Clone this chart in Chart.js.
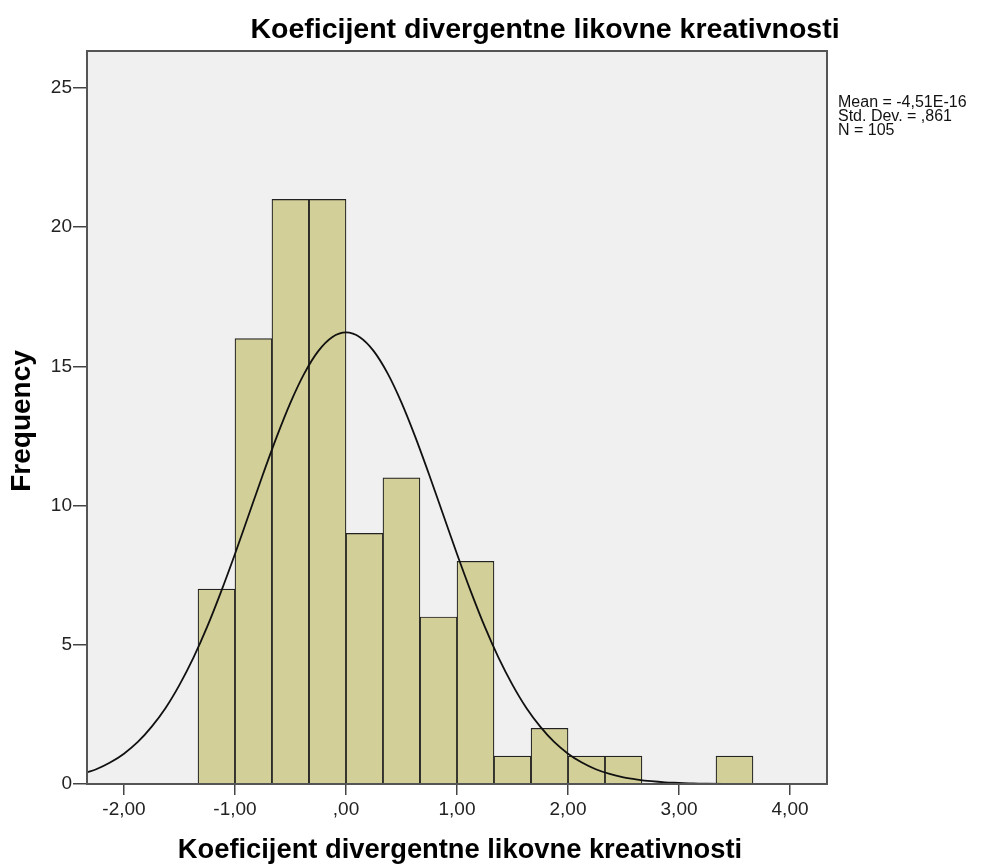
<!DOCTYPE html>
<html>
<head>
<meta charset="utf-8">
<script src="https://cdn.jsdelivr.net/npm/chart.js@4.4.0/dist/chart.umd.min.js"></script>
<style>
  html, body { margin: 0; padding: 0; background: #fff; }
  #wrap { width: 997px; height: 865px; position: relative; }
</style>
</head>
<body>
<div id="wrap"><canvas id="myChart" width="997" height="865"></canvas></div>
<script>
// histogram bins (lower edge) and counts
var binLower = [-1.333, -1.0, -0.667, -0.333, 0.0, 0.333, 0.667, 1.0, 1.333, 1.667, 2.0, 2.333, 2.667, 3.0, 3.333];
var binCount = [7, 16, 21, 21, 9, 11, 6, 8, 1, 2, 1, 1, 0, 0, 1];
var binWidth = 0.3333;

// normal curve
var curveX = [-2.333, -2.25, -2.125, -2.0, -1.875, -1.75, -1.625, -1.5, -1.375, -1.25, -1.125, -1.0, -0.875, -0.75, -0.625, -0.5, -0.375, -0.25, -0.125, 0.0,
              0.125, 0.25, 0.375, 0.5, 0.625, 0.75, 0.875, 1.0, 1.125, 1.25, 1.375, 1.5, 1.625, 1.75, 1.875, 2.0, 2.125, 2.25, 2.375, 2.5, 2.625, 2.75, 2.875, 3.0, 3.125, 3.25, 3.5, 4.0, 4.333];
var curveY = [0.42, 0.53, 0.77, 1.09, 1.51, 2.06, 2.73, 3.56, 4.53, 5.65, 6.91, 8.26, 9.68, 11.10, 12.46, 13.70, 14.75, 15.55, 16.05, 16.22,
              16.05, 15.55, 14.75, 13.70, 12.46, 11.10, 9.68, 8.26, 6.91, 5.65, 4.53, 3.56, 2.73, 2.06, 1.51, 1.09, 0.77, 0.53, 0.36, 0.24, 0.16, 0.10, 0.06, 0.04, 0.02, 0.01, 0.0, 0.0, 0.0];

var xTicks = [-2, -1, 0, 1, 2, 3, 4];
var yTicks = [0, 5, 10, 15, 20, 25];

var titleText = "Koeficijent divergentne likovne kreativnosti";
var xTitle = "Koeficijent divergentne likovne kreativnosti";
var yTitle = "Frequency";
var statsLines = ["Mean = -4,51E-16", "Std. Dev. = ,861", "N = 105"];

var FONT = "'Liberation Sans', Arial, sans-serif";

function fmtX(v) {
  var s = Math.abs(v).toFixed(2).replace(".", ",");
  if (s.charAt(0) === "0") s = s.substring(1);
  return (v < 0 ? "-" : "") + s;
}

var decor = {
  id: "decor",
  beforeDraw: function (chart) {
    var ctx = chart.ctx, a = chart.chartArea;
    ctx.save();
    ctx.fillStyle = "#F0F0F0";
    ctx.fillRect(a.left, a.top, a.right - a.left, a.bottom - a.top);
    ctx.restore();
  },
  afterDraw: function (chart) {
    var ctx = chart.ctx, a = chart.chartArea;
    ctx.save();
    ctx.strokeStyle = "#555";
    ctx.lineWidth = 2;
    ctx.strokeRect(a.left, a.top, a.right - a.left, a.bottom - a.top);

    ctx.fillStyle = "#000";
    ctx.textAlign = "center";
    ctx.textBaseline = "alphabetic";
    ctx.font = "bold 28.5px " + FONT;
    ctx.fillText(titleText, 545, 38);

    ctx.font = "bold 27.3px " + FONT;
    ctx.fillText(xTitle, 460, 858);

    ctx.save();
    ctx.font = "bold 28px " + FONT;
    ctx.translate(30, 421);
    ctx.rotate(-Math.PI / 2);
    ctx.fillText(yTitle, 0, 0);
    ctx.restore();

    ctx.textAlign = "left";
    ctx.font = "16px " + FONT;
    ctx.fillStyle = "#111";
    for (var i = 0; i < statsLines.length; i++) {
      ctx.fillText(statsLines[i], 838, 107 + i * 14);
    }
    ctx.restore();
  }
};

var ctx = document.getElementById("myChart");
var myChart = new Chart(ctx, {
  type: "bar",
  data: {
    datasets: [
      {
        type: "line",
        data: curveX.map(function (x, i) { return { x: x, y: curveY[i] }; }),
        borderColor: "#111",
        borderWidth: 1.8,
        pointRadius: 0,
        fill: false,
        cubicInterpolationMode: "monotone",
        order: 0
      },
      {
        type: "bar",
        data: binLower.map(function (x, i) { return { x: x + binWidth / 2, y: binCount[i] }; }),
        backgroundColor: "#D3CF98",
        borderColor: "#222",
        borderWidth: 1.2,
        barPercentage: 1,
        categoryPercentage: 1,
        order: 1
      }
    ]
  },
  options: {
    responsive: false,
    animation: false,
    layout: { padding: { top: 51, right: 170, left: 0, bottom: 0 } },
    plugins: { legend: { display: false }, tooltip: { enabled: false } },
    scales: {
      x: {
        type: "linear",
        offset: false,
        min: -2.333,
        max: 4.333,
        afterBuildTicks: function (s) { s.ticks = xTicks.map(function (v) { return { value: v }; }); },
        afterFit: function (s) { s.height = 81; },
        ticks: {
          color: "#222",
          font: { family: FONT, size: 19 },
          padding: 3,
          maxRotation: 0,
          callback: function (v) { return fmtX(v); }
        },
        grid: { offset: false, drawOnChartArea: false, drawTicks: true, tickLength: 11, color: "#444", lineWidth: 1.5 },
        border: { display: true, color: "#555", width: 2 }
      },
      y: {
        min: 0,
        max: 26.33,
        afterBuildTicks: function (s) { s.ticks = yTicks.map(function (v) { return { value: v }; }); },
        afterFit: function (s) { s.width = 87; },
        ticks: {
          color: "#222",
          font: { family: FONT, size: 19 },
          padding: 1
        },
        grid: { drawOnChartArea: false, drawTicks: true, tickLength: 14, color: "#444", lineWidth: 1.5 },
        border: { display: true, color: "#555", width: 2 }
      }
    }
  },
  plugins: [decor]
});
</script>
</body>
</html>
